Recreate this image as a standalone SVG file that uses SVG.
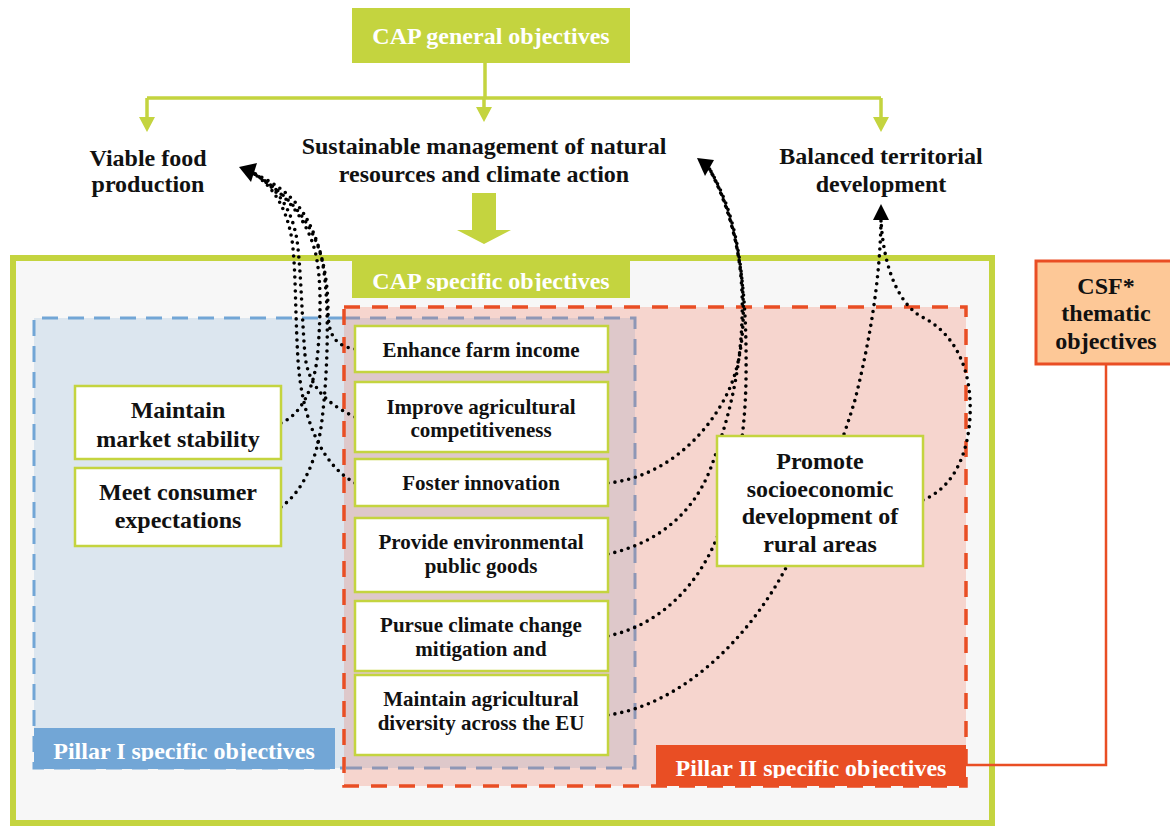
<svg xmlns="http://www.w3.org/2000/svg" width="1170" height="826" viewBox="0 0 1170 826">
<defs>
<style>
.t{font-family:"Liberation Serif","Times New Roman",serif;font-weight:bold;text-anchor:middle;fill:#111}
.w{fill:#fff}
.f24{font-size:24px}
.f21{font-size:21px}
.box{fill:#fff;stroke:#c4d43f;stroke-width:2.5}
.dot{fill:none;stroke:#000;stroke-width:3.6;stroke-dasharray:0 7;stroke-linecap:round}
.gl{fill:none;stroke:#c4d43f;stroke-width:3.5}
.gf{fill:#c4d43f}
.ah{fill:#000}
</style>
<clipPath id="clipCap"><rect x="352" y="255" width="278" height="36"/></clipPath>
<clipPath id="clipP1"><rect x="34" y="728" width="301" height="33"/></clipPath>
<clipPath id="clipP2"><rect x="656" y="745" width="310" height="33"/></clipPath>
</defs>
<rect x="0" y="0" width="1170" height="826" fill="#fff"/>

<!-- frames / regions -->
<g id="cap-specific-frame">
<rect x="13" y="258" width="979" height="565" fill="#f7f7f7" stroke="#c4d43f" stroke-width="6"/>
<rect x="352" y="255" width="278" height="43" class="gf"/>
<text class="t w f24" x="491" y="289" clip-path="url(#clipCap)">CAP specific objectives</text>
</g>
<g id="pillar-regions">
<rect x="34" y="318" width="601" height="450" fill="#dce6ef"/>
<rect x="344" y="307" width="622" height="479" fill="#f6d5ce"/>
<rect x="344" y="318" width="291" height="450" fill="#dec8ca"/>
<path d="M344,318 H34 V768 H344" fill="none" stroke="#72a6d6" stroke-width="3" stroke-dasharray="16 10"/>
<path d="M344,318 H635 V768 H344" fill="none" stroke="#8e97b6" stroke-width="3" stroke-dasharray="16 10"/>
<rect x="344" y="307" width="622" height="479" fill="none" stroke="#e94e24" stroke-width="3.5" stroke-dasharray="16 12"/>
</g>
<g id="pillar1-label">
<rect x="34" y="728" width="301" height="41" fill="#72a6d6"/>
<text class="t w f24" x="184" y="759" clip-path="url(#clipP1)">Pillar I specific objectives</text>
</g>
<g id="pillar2-label">
<rect x="656" y="745" width="310" height="41" fill="#e94e24"/>
<text class="t w f24" x="811" y="776" clip-path="url(#clipP2)">Pillar II specific objectives</text>
</g>

<!-- connectors -->
<g id="connectors">
<path class="gl" d="M485,63 V98 M147,98 H881 M147,98 V118 M484,98 V108 M881,98 V118"/>
<polygon class="gf" points="139,117 155,117 147,132"/>
<polygon class="gf" points="476,107 492,107 484,122"/>
<polygon class="gf" points="873,117 889,117 881,132"/>
<polygon class="gf" points="472,193 496,193 496,230 511,230 484,244 457,230 472,230"/>
<path d="M1106,364 V765 H966" fill="none" stroke="#e94e24" stroke-width="2.5"/>

<path class="dot" d="M355,349 C335,346 328,335 328,310 C328,280 322,250 310,225 C298,200 280,185 253,173"/>
<path class="dot" d="M355,417 C325,403 308,385 305,355 C302,320 301,270 297,240 C292,210 278,188 253,173"/>
<path class="dot" d="M355,483 C322,465 302,420 298,360 C295,310 296,270 292,240 C287,210 275,188 253,173"/>
<path class="dot" d="M281,423 C300,415 315,390 318,350 C321,310 321,280 316,255 C308,220 285,192 253,173"/>
<path class="dot" d="M281,507 C305,490 318,455 322,420 C328,370 330,300 322,260 C314,225 290,195 253,173"/>
<polygon class="ah" points="239,167 257,163 251,182"/>

<path class="dot" d="M608,483 C660,478 705,440 728,392 C748,350 745,290 738,250 C732,215 722,190 709,168"/>
<path class="dot" d="M608,554 C650,545 690,520 710,470 C725,430 740,380 742,320 C744,270 735,215 709,168"/>
<path class="dot" d="M608,636 C660,625 700,585 720,530 C735,490 745,440 746,380 C747,300 742,230 709,168"/>
<polygon class="ah" points="697,158 714,160 705,176"/>

<path class="dot" d="M608,715 C680,705 750,640 790,560 C820,500 840,450 855,400 C870,340 880,280 881,220"/>
<path class="dot" d="M923,500 C960,485 972,440 970,400 C968,360 950,330 920,316 C895,300 883,260 881,220"/>
<polygon class="ah" points="881,204 873,220 889,220"/>
</g>

<!-- nodes -->
<g id="cap-general">
<rect x="352" y="8" width="278" height="55" class="gf"/>
<text class="t w f24" x="491" y="44">CAP general objectives</text>
</g>
<g id="viable-food">
<text class="t f24" x="148" y="166">Viable food</text>
<text class="t f24" x="148" y="192">production</text>
</g>
<g id="sustainable">
<text class="t f24" x="484" y="154">Sustainable management of natural</text>
<text class="t f24" x="484" y="182">resources and climate action</text>
</g>
<g id="balanced">
<text class="t f24" x="881" y="164">Balanced territorial</text>
<text class="t f24" x="881" y="192">development</text>
</g>
<g id="maintain-market">
<rect x="75" y="386" width="206" height="73" class="box"/>
<text class="t f24" x="178" y="418">Maintain</text>
<text class="t f24" x="178" y="447">market stability</text>
</g>
<g id="meet-consumer">
<rect x="75" y="468" width="206" height="78" class="box"/>
<text class="t f24" x="178" y="500">Meet consumer</text>
<text class="t f24" x="178" y="528">expectations</text>
</g>
<g id="enhance-income">
<rect x="355" y="326" width="253" height="46" class="box"/>
<text class="t f21" x="481" y="357">Enhance farm income</text>
</g>
<g id="improve-competitiveness">
<rect x="355" y="382" width="253" height="70" class="box"/>
<text class="t f21" x="481" y="414">Improve agricultural</text>
<text class="t f21" x="481" y="437">competitiveness</text>
</g>
<g id="foster-innovation">
<rect x="355" y="459" width="253" height="47" class="box"/>
<text class="t f21" x="481" y="490">Foster innovation</text>
</g>
<g id="provide-env">
<rect x="355" y="518" width="253" height="74" class="box"/>
<text class="t f21" x="481" y="549">Provide environmental</text>
<text class="t f21" x="481" y="573">public goods</text>
</g>
<g id="pursue-climate">
<rect x="355" y="601" width="253" height="70" class="box"/>
<text class="t f21" x="481" y="632">Pursue climate change</text>
<text class="t f21" x="481" y="656">mitigation and</text>
</g>
<g id="maintain-diversity">
<rect x="355" y="675" width="253" height="80" class="box"/>
<text class="t f21" x="481" y="706">Maintain agricultural</text>
<text class="t f21" x="481" y="730">diversity across the EU</text>
</g>
<g id="promote-rural">
<rect x="717" y="436" width="206" height="130" class="box"/>
<text class="t f24" x="820" y="469">Promote</text>
<text class="t f24" x="820" y="497">socioeconomic</text>
<text class="t f24" x="820" y="524">development of</text>
<text class="t f24" x="820" y="552">rural areas</text>
</g>
<g id="csf">
<rect x="1036" y="261" width="142" height="103" fill="#fdc897" stroke="#e94e24" stroke-width="3"/>
<text class="t f24" x="1106" y="294">CSF*</text>
<text class="t f24" x="1106" y="321">thematic</text>
<text class="t f24" x="1106" y="349">objectives</text>
</g>
</svg>
